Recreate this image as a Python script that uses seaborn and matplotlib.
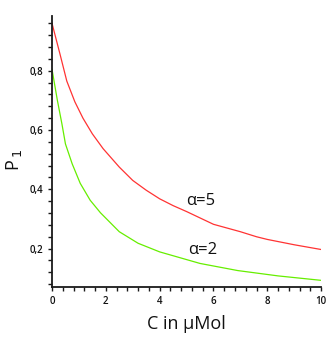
import matplotlib
matplotlib.use("Agg")
import matplotlib.pyplot as plt
from matplotlib.ticker import MultipleLocator, FuncFormatter
import seaborn as sns
import pandas as pd

sns.set_style("white")
plt.rcParams['font.family'] = ['Open Sans', 'DejaVu Sans']

# Data
c_red = [0, 0.3, 0.55, 0.85, 1.15, 1.5, 1.9, 2.5, 3.0, 3.5, 4.0, 4.5, 5.0, 6.0, 7.0,
         7.6, 8.0, 9.0, 10.0]
p_red = [0.96, 0.855, 0.765, 0.695, 0.64, 0.587, 0.537, 0.475, 0.43, 0.397, 0.368,
         0.345, 0.325, 0.282, 0.257, 0.240, 0.231, 0.213, 0.197]
c_green = [0, 0.2, 0.37, 0.5, 0.75, 1.05, 1.42, 1.8, 2.5, 3.2, 4.0, 5.5, 6.9, 8.4, 10.0]
p_green = [0.805, 0.70, 0.62, 0.553, 0.486, 0.42, 0.363, 0.321, 0.257, 0.218, 0.189,
           0.15, 0.126, 0.108, 0.093]
labels = ["α=5", "α=2"]

df = pd.concat([
    pd.DataFrame({"C": c_red, "P": p_red, "alpha": labels[0]}),
    pd.DataFrame({"C": c_green, "P": p_green, "alpha": labels[1]}),
])

fig = plt.figure(figsize=(3.27, 3.37), dpi=100)
ax = fig.add_axes([0.159, 0.147, 0.823, 0.806])

sns.lineplot(data=df, x="C", y="P", hue="alpha",
             palette={labels[0]: "#ff3333", labels[1]: "#66ee00"},
             linewidth=0.9, legend=False, ax=ax, sort=False)

ax.set_xlim(0, 10)
ax.set_ylim(0.069, 0.985)

ax.xaxis.set_major_locator(MultipleLocator(2))
ax.xaxis.set_minor_locator(MultipleLocator(0.4))
ax.yaxis.set_major_locator(MultipleLocator(0.2))
ax.yaxis.set_minor_locator(MultipleLocator(0.04))
ax.yaxis.set_major_formatter(FuncFormatter(lambda v, p: f"{v:.1f}".replace(".", ",")))
ax.xaxis.set_major_formatter(FuncFormatter(lambda v, p: f"{v:.0f}"))

for s in ["top", "right"]:
    ax.spines[s].set_visible(False)
for s in ["left", "bottom"]:
    ax.spines[s].set_color("#1a1a1a")
    ax.spines[s].set_linewidth(1.3)

ax.tick_params(which="both", direction="out", length=3, width=1.0, color="#1a1a1a",
               left=True, bottom=True)
ax.tick_params(which="major", labelsize=7, pad=3, labelcolor="#111111")
for t in ax.get_xticklabels() + ax.get_yticklabels():
    t.set_fontweight("semibold")

ax.set_xlabel("C in µMol", fontsize=13, labelpad=6, color="#111111")
ax.set_ylabel("P$_{\\,1}$", fontsize=13, color="#111111")
ax.yaxis.set_label_coords(-0.105, 0.47)

ax.text(5.51, 0.36, labels[0], fontsize=12, ha="center", va="center", color="#111111")
ax.text(5.59, 0.196, labels[1], fontsize=12, ha="center", va="center", color="#111111")

fig.savefig("out.png", dpi=100)
